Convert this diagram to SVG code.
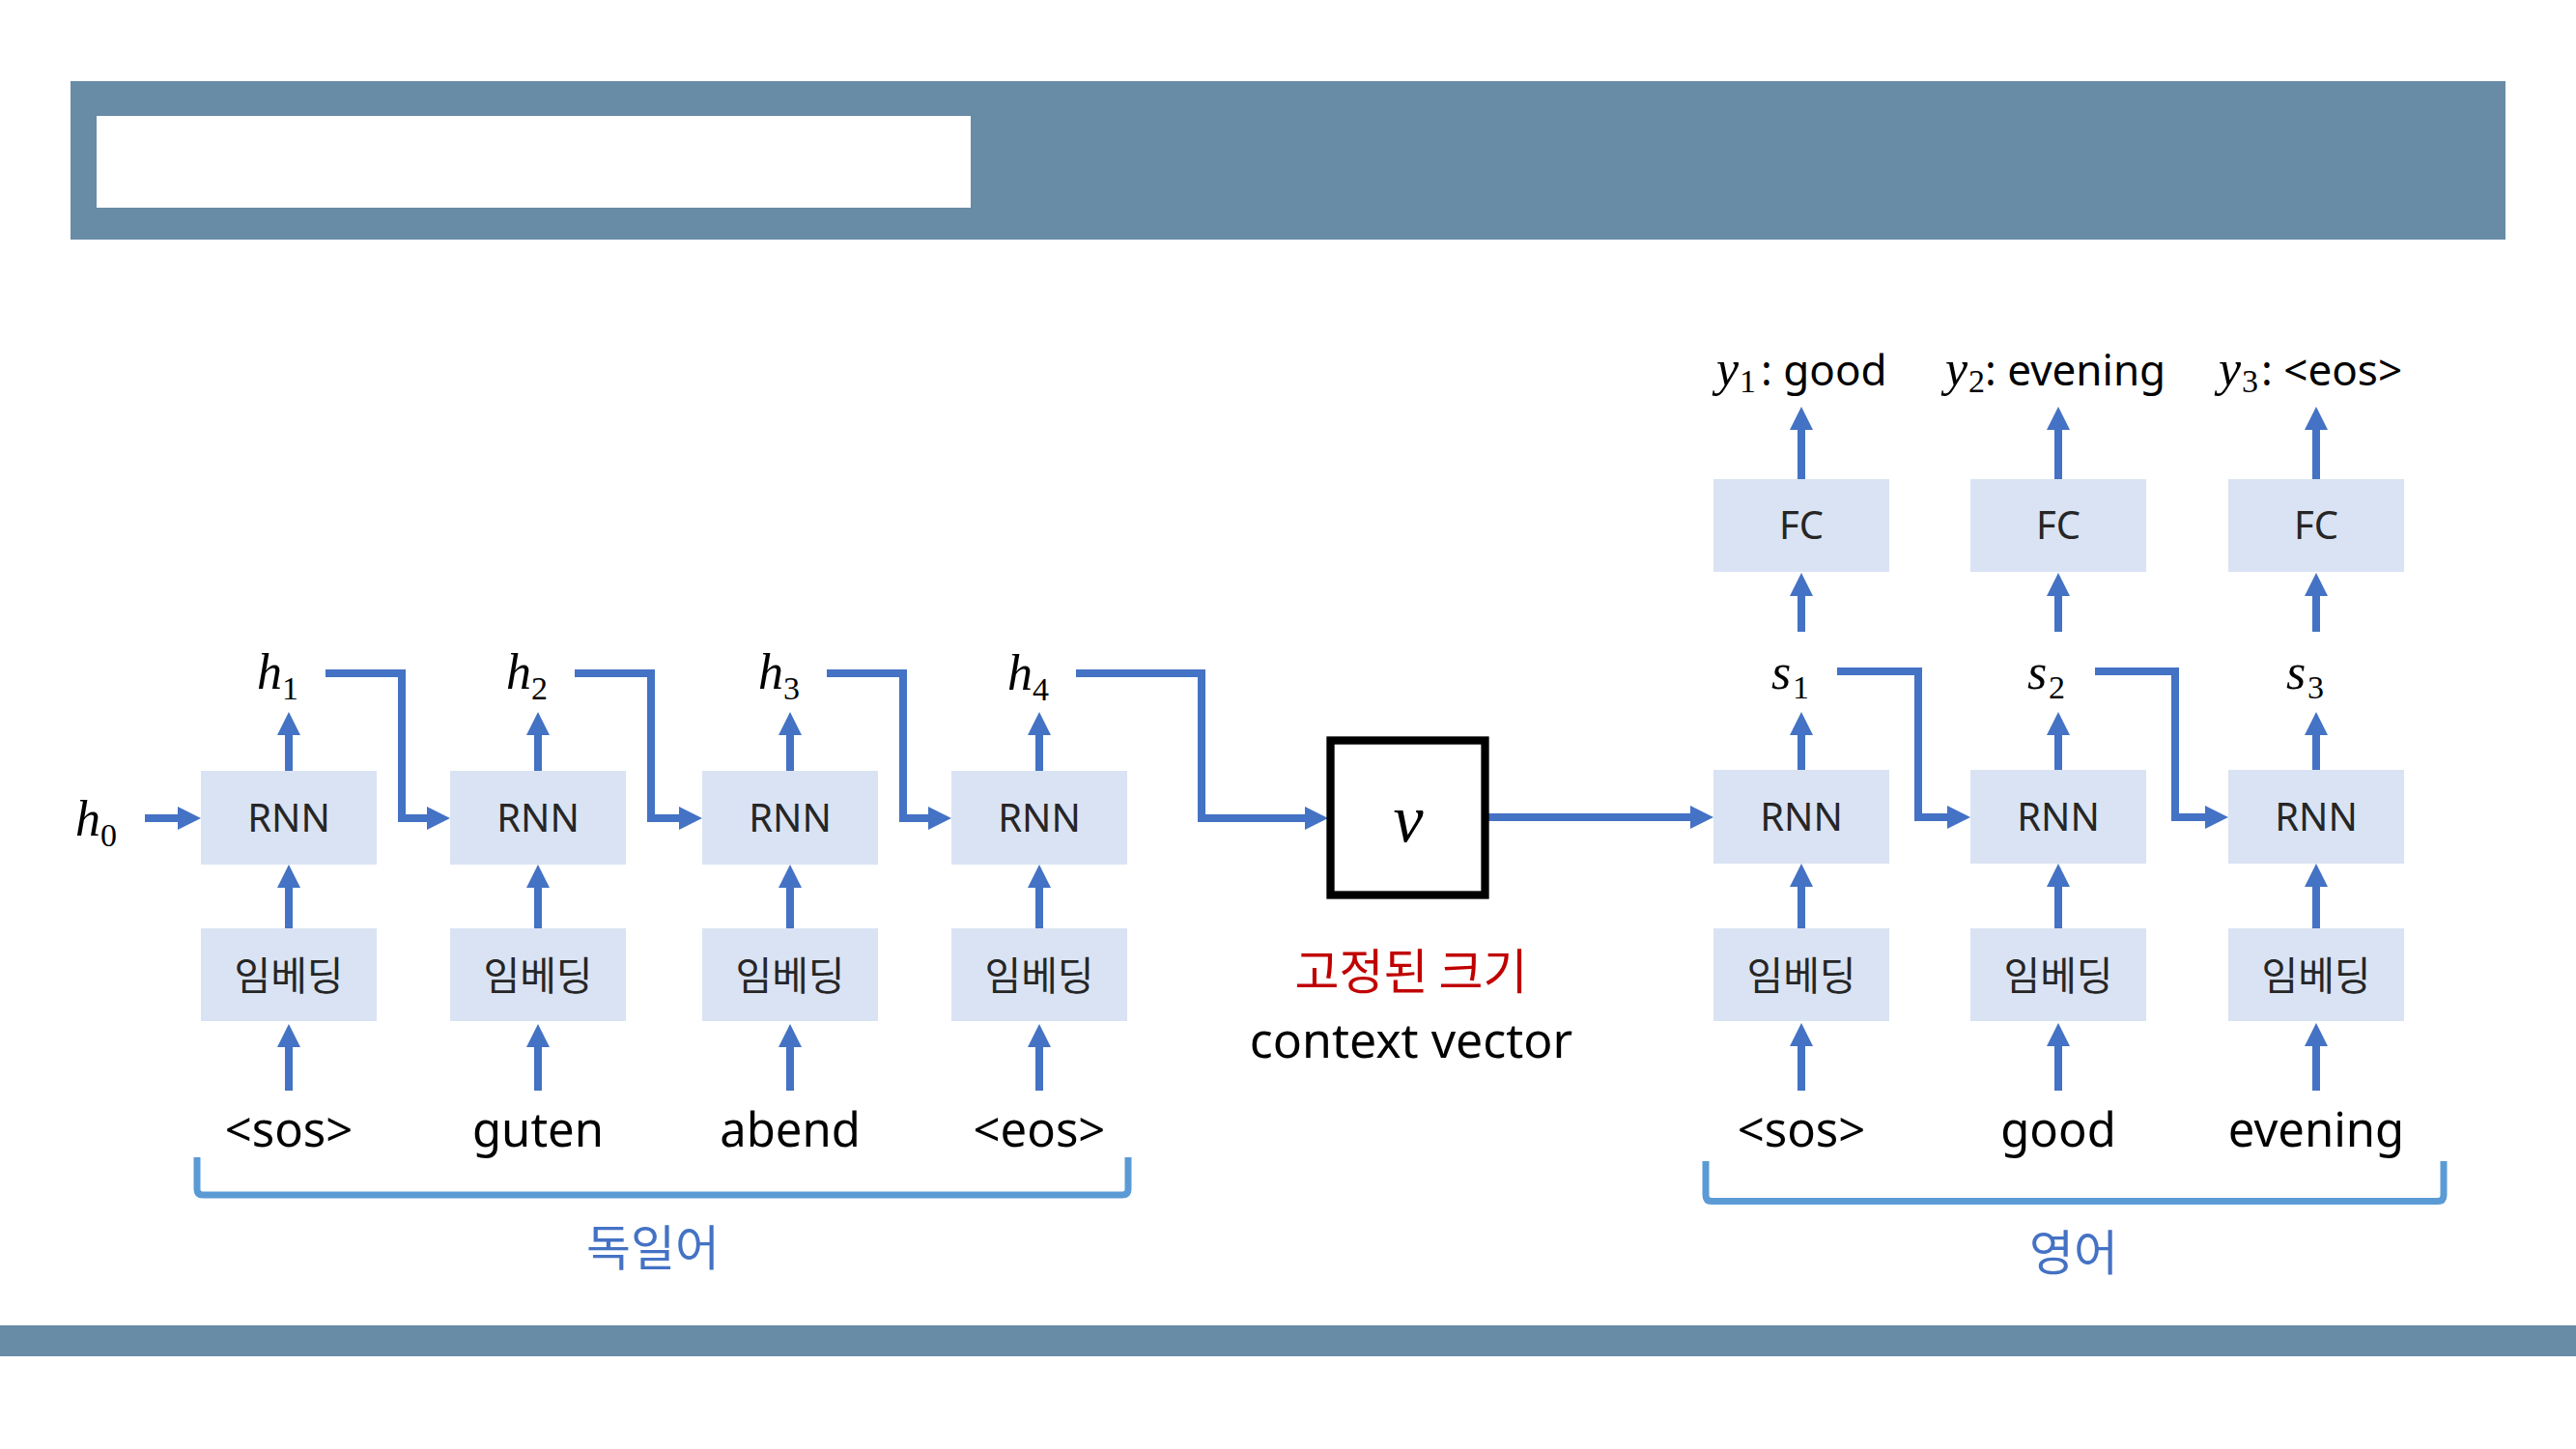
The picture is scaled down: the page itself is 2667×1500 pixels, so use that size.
<svg xmlns="http://www.w3.org/2000/svg" width="2667" height="1500" viewBox="0 0 2667 1500">
<style>
.band{fill:#688BA6}
.box{fill:#DAE3F3}
.bt{font-family:"Noto Sans","Liberation Sans",sans-serif;font-size:40px;fill:#262626;text-anchor:middle}
.kt{font-family:"Noto Sans CJK KR","Noto Sans",sans-serif;font-size:41px;fill:#262626;text-anchor:middle}
.word{font-family:"Noto Sans","Liberation Sans",sans-serif;font-size:49px;fill:#000;text-anchor:middle}
.yl{font-family:"Noto Sans","Liberation Sans",sans-serif;font-size:44px;fill:#000}
.m{font-family:"Liberation Serif",serif;font-style:italic;font-size:52px;fill:#000}
.ms{font-family:"Liberation Serif",serif;font-size:34px;fill:#000}
.conn{fill:none;stroke:#4472C4;stroke-width:8;stroke-linejoin:miter;marker-end:url(#ah)}
.brk{fill:none;stroke:#5B9BD5;stroke-width:7}
.lang{font-family:"Noto Sans CJK KR","Noto Sans",sans-serif;font-size:50px;fill:#4472C4;text-anchor:middle}
</style>
<defs>
<marker id="ah" viewBox="0 0 24 24" refX="0" refY="12" markerWidth="24" markerHeight="24" markerUnits="userSpaceOnUse" orient="auto">
<path d="M0,0 L24,12 L0,24 z" fill="#4472C4"/>
</marker>
</defs>
<rect width="2667" height="1500" fill="#fff"/>
<g id="header">
<rect class="band" x="73" y="84" width="2521" height="164"/>
<rect x="100" y="120" width="905" height="95" fill="#fff"/>
</g>
<rect id="footer" class="band" x="0" y="1372" width="2667" height="32"/>

<g id="connectors">
<path class="conn" d="M299,1129 V1084"/>
<path class="conn" d="M557,1129 V1084"/>
<path class="conn" d="M818,1129 V1084"/>
<path class="conn" d="M1076,1129 V1084"/>
<path class="conn" d="M299,961 V919"/>
<path class="conn" d="M557,961 V919"/>
<path class="conn" d="M818,961 V919"/>
<path class="conn" d="M1076,961 V919"/>
<path class="conn" d="M299,798 V761"/>
<path class="conn" d="M557,798 V761"/>
<path class="conn" d="M818,798 V761"/>
<path class="conn" d="M1076,798 V761"/>
<path class="conn" d="M150,847 H184"/>
<path class="conn" d="M337,697 H416 V847 H442"/>
<path class="conn" d="M595,697 H674 V847 H703"/>
<path class="conn" d="M856,697 H935 V847 H961"/>
<path class="conn" d="M1114,697 H1244 V847 H1351"/>
<path class="conn" d="M1541,846 H1750"/>
<path class="conn" d="M1865,1129 V1083"/>
<path class="conn" d="M2131,1129 V1083"/>
<path class="conn" d="M2398,1129 V1083"/>
<path class="conn" d="M1865,961 V918"/>
<path class="conn" d="M2131,961 V918"/>
<path class="conn" d="M2398,961 V918"/>
<path class="conn" d="M1865,797 V761"/>
<path class="conn" d="M2131,797 V761"/>
<path class="conn" d="M2398,797 V761"/>
<path class="conn" d="M1865,654 V617"/>
<path class="conn" d="M2131,654 V617"/>
<path class="conn" d="M2398,654 V617"/>
<path class="conn" d="M1865,496 V445"/>
<path class="conn" d="M2131,496 V445"/>
<path class="conn" d="M2398,496 V445"/>
<path class="conn" d="M1902,695 H1986 V846 H2016"/>
<path class="conn" d="M2169,695 H2252 V846 H2283"/>
</g>

<g id="enc-rnn1"><rect class="box" x="208" y="798" width="182" height="97"/><text class="bt" x="299" y="861">RNN</text></g>
<g id="enc-rnn2"><rect class="box" x="466" y="798" width="182" height="97"/><text class="bt" x="557" y="861">RNN</text></g>
<g id="enc-rnn3"><rect class="box" x="727" y="798" width="182" height="97"/><text class="bt" x="818" y="861">RNN</text></g>
<g id="enc-rnn4"><rect class="box" x="985" y="798" width="182" height="97"/><text class="bt" x="1076" y="861">RNN</text></g>
<g id="enc-emb1"><rect class="box" x="208" y="961" width="182" height="96"/><text class="kt" x="299" y="1025">임베딩</text></g>
<g id="enc-emb2"><rect class="box" x="466" y="961" width="182" height="96"/><text class="kt" x="557" y="1025">임베딩</text></g>
<g id="enc-emb3"><rect class="box" x="727" y="961" width="182" height="96"/><text class="kt" x="818" y="1025">임베딩</text></g>
<g id="enc-emb4"><rect class="box" x="985" y="961" width="182" height="96"/><text class="kt" x="1076" y="1025">임베딩</text></g>
<g id="enc-w1"><text class="word" x="299" y="1187">&lt;sos&gt;</text></g>
<g id="enc-w2"><text class="word" x="557" y="1187">guten</text></g>
<g id="enc-w3"><text class="word" x="818" y="1187">abend</text></g>
<g id="enc-w4"><text class="word" x="1076" y="1187">&lt;eos&gt;</text></g>
<g id="h0"><text class="m" x="78" y="865">h</text><text class="ms" x="104" y="876">0</text></g>
<g id="h1"><text class="m" x="266" y="713">h</text><text class="ms" x="292" y="724">1</text></g>
<g id="h2"><text class="m" x="524" y="713">h</text><text class="ms" x="550" y="724">2</text></g>
<g id="h3"><text class="m" x="785" y="713">h</text><text class="ms" x="811" y="724">3</text></g>
<g id="h4"><text class="m" x="1043" y="714">h</text><text class="ms" x="1069" y="725">4</text></g>

<g id="enc-bracket"><path class="brk" d="M204,1198 V1231 Q204,1237 210,1237 H1162 Q1168,1237 1168,1231 V1198"/></g>
<g id="lang-de"><text class="lang" x="676" y="1310">독일어</text></g>

<g id="context">
<rect x="1377.5" y="766.5" width="160" height="160" fill="#fff" stroke="#000" stroke-width="8.3"/>
<text x="1458" y="871" font-family="Liberation Serif, serif" font-style="italic" font-size="70" text-anchor="middle" fill="#000">v</text>
</g>
<g id="context-label">
<text x="1461" y="1024" font-family="Noto Sans CJK KR, Noto Sans, sans-serif" font-size="50" fill="#C00000" text-anchor="middle">고정된 크기</text>
<text x="1461" y="1095" font-family="Noto Sans, Liberation Sans, sans-serif" font-size="50" fill="#000" text-anchor="middle">context vector</text>
</g>

<g id="dec-fc1"><rect class="box" x="1774" y="496" width="182" height="96"/><text class="bt" x="1865" y="558">FC</text></g>
<g id="dec-fc2"><rect class="box" x="2040" y="496" width="182" height="96"/><text class="bt" x="2131" y="558">FC</text></g>
<g id="dec-fc3"><rect class="box" x="2307" y="496" width="182" height="96"/><text class="bt" x="2398" y="558">FC</text></g>
<g id="dec-rnn1"><rect class="box" x="1774" y="797" width="182" height="97"/><text class="bt" x="1865" y="860">RNN</text></g>
<g id="dec-rnn2"><rect class="box" x="2040" y="797" width="182" height="97"/><text class="bt" x="2131" y="860">RNN</text></g>
<g id="dec-rnn3"><rect class="box" x="2307" y="797" width="182" height="97"/><text class="bt" x="2398" y="860">RNN</text></g>
<g id="dec-emb1"><rect class="box" x="1774" y="961" width="182" height="96"/><text class="kt" x="1865" y="1025">임베딩</text></g>
<g id="dec-emb2"><rect class="box" x="2040" y="961" width="182" height="96"/><text class="kt" x="2131" y="1025">임베딩</text></g>
<g id="dec-emb3"><rect class="box" x="2307" y="961" width="182" height="96"/><text class="kt" x="2398" y="1025">임베딩</text></g>
<g id="dec-w1"><text class="word" x="1865" y="1187">&lt;sos&gt;</text></g>
<g id="dec-w2"><text class="word" x="2131" y="1187">good</text></g>
<g id="dec-w3"><text class="word" x="2398" y="1187">evening</text></g>
<g id="s1"><text class="m" x="1834" y="713">s</text><text class="ms" x="1856" y="723">1</text></g>
<g id="s2"><text class="m" x="2099" y="713">s</text><text class="ms" x="2121" y="723">2</text></g>
<g id="s3"><text class="m" x="2367" y="713">s</text><text class="ms" x="2389" y="723">3</text></g>
<g id="y1"><text class="m" x="1777" y="399">y</text><text class="ms" x="1801" y="406">1</text><text class="yl" x="1823" y="399">: good</text></g>
<g id="y2"><text class="m" x="2014" y="399">y</text><text class="ms" x="2038" y="406">2</text><text class="yl" x="2055" y="399">: evening</text></g>
<g id="y3"><text class="m" x="2297" y="399">y</text><text class="ms" x="2321" y="406">3</text><text class="yl" x="2341" y="399">: &lt;eos&gt;</text></g>

<g id="dec-bracket"><path class="brk" d="M1766,1202 V1237 Q1766,1243.5 1772,1243.5 H2524 Q2530,1243.5 2530,1237 V1202"/></g>
<g id="lang-en"><text class="lang" x="2147" y="1315">영어</text></g>
</svg>
